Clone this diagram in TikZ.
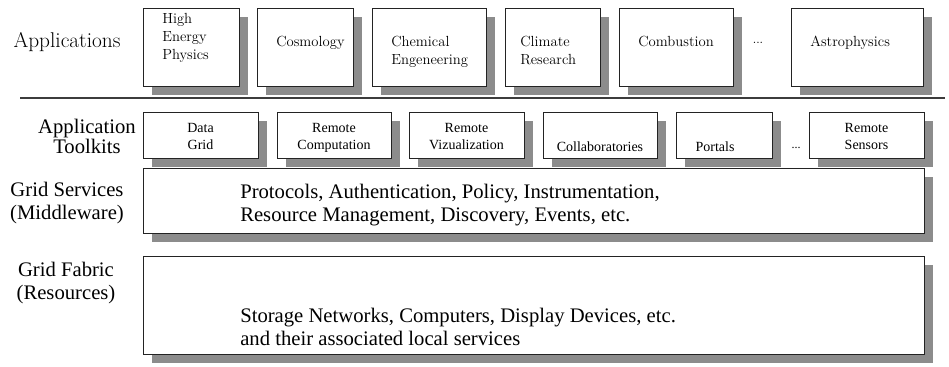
\documentclass[tikz,border=0pt]{standalone}
\usepackage{fontspec}
\newfontfamily\timesfont{Liberation Serif}

\begin{document}
\begin{tikzpicture}[x=0.75pt,y=0.75pt,yscale=-1,xscale=1,
  layer box/.style={draw={rgb, 255:red, 35; green, 35; blue, 35 }, line width=0.9pt, fill=white, inner sep=0pt, anchor=north west},
  drop fill/.style={fill={rgb, 255:red, 140; green, 140; blue, 140 }},
  app text/.style={anchor=north west, inner sep=0pt, align=left, font=\fontsize{11}{13.5}\selectfont},
  kit text/.style={anchor=north, inner sep=0pt, align=center, font=\timesfont\fontsize{10.5}{12.75}\selectfont},
  layer text/.style={anchor=north west, inner sep=0pt, align=left, font=\timesfont\fontsize{15.5}{17}\selectfont},
  side label/.style={inner sep=0pt, align=center, font=\timesfont\fontsize{15.5}{17}\selectfont}]
\useasboundingbox (0,0) rectangle (949,367);

%Shadows: Applications row
\fill[drop fill] (152,17) rectangle (248,95);
\fill[drop fill] (266,17) rectangle (362,95);
\fill[drop fill] (381,17) rectangle (495,95);
\fill[drop fill] (514,17) rectangle (609,95);
\fill[drop fill] (628,17) rectangle (742,95);
\fill[drop fill] (800,17) rectangle (932,95);
%Shadows: Toolkits row
\fill[drop fill] (152,121) rectangle (267,167);
\fill[drop fill] (286,121) rectangle (400,167);
\fill[drop fill] (418,121) rectangle (533,167);
\fill[drop fill] (552,121) rectangle (666,167);
\fill[drop fill] (685,121) rectangle (781,167);
\fill[drop fill] (818,121) rectangle (933,167);
%Shadows: layers
\fill[drop fill] (152,177) rectangle (933,242);
\fill[drop fill] (152,265) rectangle (933,363);

%Shape: Applications boxes
\node[layer box, minimum width=72pt, minimum height=58.5pt] (hep) at (143,8) {};
\node[layer box, minimum width=72pt, minimum height=58.5pt] (cosmo) at (257,8) {};
\node[layer box, minimum width=85.5pt, minimum height=58.5pt] (chem) at (372,8) {};
\node[layer box, minimum width=71.25pt, minimum height=58.5pt] (climate) at (505,8) {};
\node[layer box, minimum width=85.5pt, minimum height=58.5pt] (combust) at (619,8) {};
\node[layer box, minimum width=99pt, minimum height=58.5pt] (astro) at (791,8) {};
%Shape: Toolkits boxes
\node[layer box, minimum width=86.25pt, minimum height=34.5pt] (datagrid) at (143,112) {};
\node[layer box, minimum width=85.5pt, minimum height=34.5pt] (rcomp) at (277,112) {};
\node[layer box, minimum width=86.25pt, minimum height=34.5pt] (rviz) at (409,112) {};
\node[layer box, minimum width=85.5pt, minimum height=34.5pt] (collab) at (543,112) {};
\node[layer box, minimum width=72pt, minimum height=34.5pt] (portals) at (676,112) {};
\node[layer box, minimum width=86.25pt, minimum height=34.5pt] (rsens) at (809,112) {};
%Shape: layers
\node[layer box, minimum width=585.75pt, minimum height=48.75pt] (services) at (143,168) {};
\node[layer box, minimum width=585.75pt, minimum height=73.5pt] (fabric) at (143,256) {};

%Straight Lines
\coordinate (rule west) at (20,98);
\coordinate (rule east) at (945,98);
\draw [color={rgb, 255:red, 60; green, 60; blue, 60 }, line width=1.1pt] (rule west) -- (rule east);

% Text Node
\node[app text] (hepT) at (162,13) {High\\Energy\\Physics};
\node[app text] (cosmoT) at (276,36) {Cosmology};
\node[app text] (chemT) at (391,36) {Chemical\\Engeneering};
\node[app text] (climateT) at (520,36) {Climate\\Research};
\node[app text] (combustT) at (638,36) {Combustion};
\node[font=\fontsize{9}{11}\selectfont, inner sep=0pt] (appdots) at (758,43) {...};
\node[app text] (astroT) at (810,36) {Astrophysics};
% Text Node
\node[kit text] (datagridT) at (200.5,123) {Data\\Grid};
\node[kit text] (rcompT) at (334,123) {Remote\\Computation};
\node[kit text] (rvizT) at (466.5,123) {Remote\\Vizualization};
\node[kit text] (collabT) at (600,141.5) {Collaboratories};
\node[kit text] (portalsT) at (715,141.5) {Portals};
\node[font=\timesfont\fontsize{9}{11}\selectfont, inner sep=0pt] (kitdots) at (796,148) {...};
\node[kit text] (rsensT) at (866.5,123) {Remote\\Sensors};
% Text Node
\node[layer text] (servicesT) at (240,184) {Protocols, Authentication, Policy, Instrumentation,\\Resource Management, Discovery, Events, etc.};
\node[layer text] (fabricT) at (240,308) {Storage Networks, Computers, Display Devices, etc.\\and their associated local services};
% Text Node
\node[inner sep=0pt, font=\fontsize{16}{18}\selectfont] (appsL) at (67,42) {Applications};
\node[side label, font=\timesfont\fontsize{15.5}{13.5}\selectfont] (kitsL) at (87,136) {Application\\Toolkits};
\node[side label] (servicesL) at (67,203) {Grid Services\\(Middleware)};
\node[side label] (fabricL) at (66,283) {Grid Fabric\\(Resources)};

\end{tikzpicture}
\end{document}
